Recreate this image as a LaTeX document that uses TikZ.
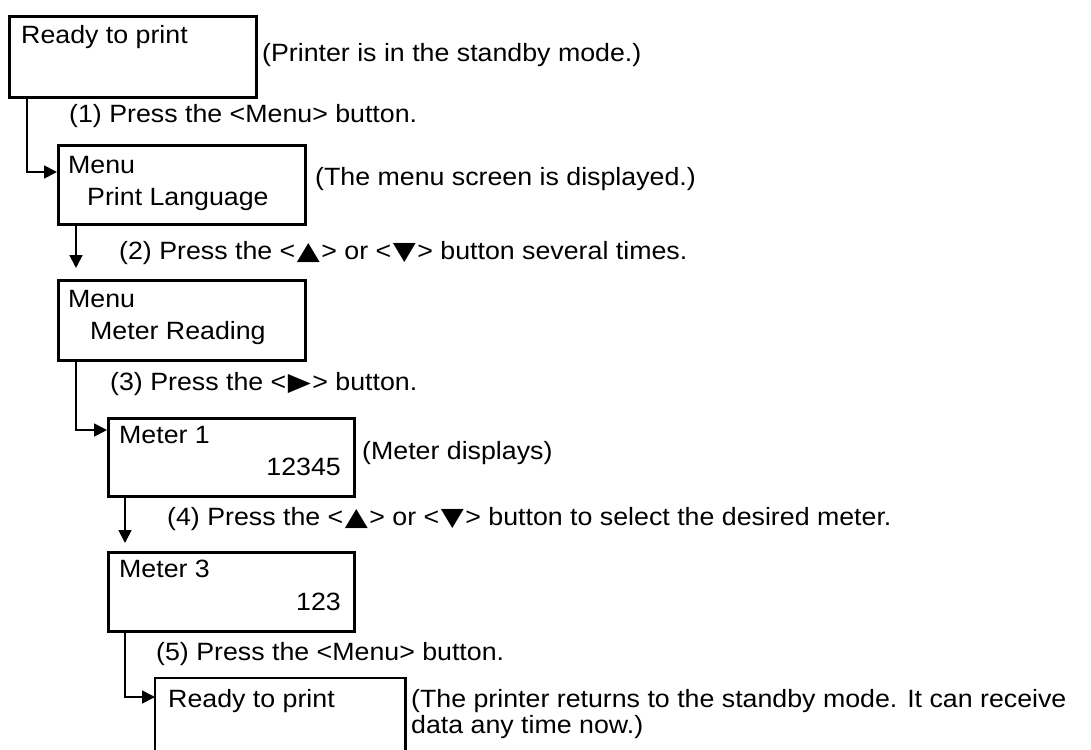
\documentclass[tikz,border=0pt]{standalone}
\usepackage{fontspec}
\setmainfont{Liberation Sans}[FakeStretch=1.07]
\newfontfamily\symf{DejaVu Sans}[FakeStretch=1.2]
\usetikzlibrary{arrows.meta}
\newcommand\myfs{\fontsize{25pt}{30pt}\selectfont}
\newcommand\tri[1]{\kern1.5pt{\symf\fontsize{25pt}{30pt}\selectfont #1}\kern1.5pt}
\begin{document}
\begin{tikzpicture}[x=1pt,y=-1pt,
  box/.style={draw, line width=2.6pt, inner sep=0pt, anchor=north west},
  boxline/.style={line width=2.6pt},
  conn/.style={line width=1.8pt, -{Triangle[length=13pt,width=13pt]}},
  txt/.style={anchor=base west, inner sep=0pt, font=\myfs},
  rtxt/.style={anchor=base east, inner sep=0pt, font=\myfs}]
\fill[white] (0,0) rectangle (1091,749);
\useasboundingbox (0,0) rectangle (1091,749);

% boxes
\node[box, minimum width=247pt, minimum height=81pt] (b1) at (8,15) {};
\node[box, minimum width=247pt, minimum height=79pt] (b2) at (57,144) {};
\node[box, minimum width=247pt, minimum height=80pt] (b3) at (57,279) {};
\node[box, minimum width=246pt, minimum height=78pt] (b4) at (107,417) {};
\node[box, minimum width=246pt, minimum height=79pt] (b5) at (107,551) {};
\node[box, draw=none, minimum width=248pt, minimum height=75pt] (b6) at (155,678) {};
\draw[boxline] (b6.south west) -- (b6.north west) -- (b6.north east) -- (b6.south east);

% box texts
\node[txt] (t1) at (21,44) {Ready to print};
\node[txt] (t2a) at (68,173) {Menu};
\node[txt] (t2b) at (87,205) {Print Language};
\node[txt] (t3a) at (68,307) {Menu};
\node[txt] (t3b) at (90,339) {Meter Reading};
\node[txt] (t4a) at (119,443) {Meter 1};
\node[rtxt] (t4b) at (341,475) {12345};
\node[txt] (t5a) at (119,577) {Meter 3};
\node[rtxt] (t5b) at (341,610) {123};
\node[txt] (t6) at (168,707) {Ready to print};

% notes
\node[txt] (n1) at (262,62) {(Printer is in the standby mode.)};
\node[txt] (n2) at (315,185) {(The menu screen is displayed.)};
\node[txt] (n4) at (362,459) {(Meter displays)};
\node[txt] (n6a) at (411,707) {(The printer returns to the standby mode. It can receive};
\node[txt] (n6b) at (411,733) {data any time now.)};

% step labels
\node[txt] (s1) at (69,123) {(1) Press the <Menu> button.};
\node[txt] (s2) at (119,259) {(2) Press the <\tri{▲}> or <\tri{▼}> button several times.};
\node[txt] (s3) at (110,390) {(3) Press the <\tri{▶}> button.};
\node[txt] (s4) at (167,525) {(4) Press the <\tri{▲}> or <\tri{▼}> button to select the desired meter.};
\node[txt] (s5) at (156,660) {(5) Press the <Menu> button.};

% connectors
\draw[conn] ([xshift=19pt]b1.south west) |- ([yshift=-28pt]b2.north west);
\draw[conn] ([xshift=19pt]b2.south west) -- ([xshift=19pt,yshift=11pt]b3.north west);
\draw[conn] ([xshift=19pt]b3.south west) |- ([yshift=-13pt]b4.north west);
\draw[conn] ([xshift=18pt]b4.south west) -- ([xshift=18pt,yshift=8pt]b5.north west);
\draw[conn] ([xshift=18pt]b5.south west) |- ([yshift=-19pt]b6.north west);
\end{tikzpicture}
\end{document}
